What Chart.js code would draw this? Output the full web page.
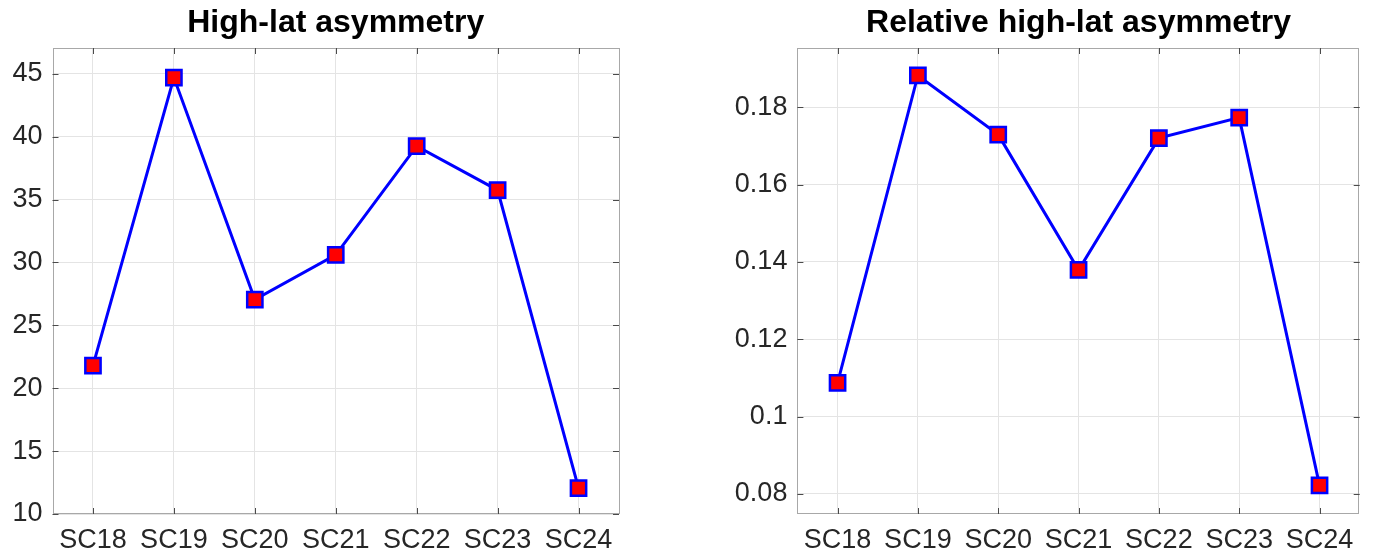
<!DOCTYPE html>
<html>
<head>
<meta charset="utf-8">
<script src="https://cdn.jsdelivr.net/npm/chart.js@4.4.1/dist/chart.umd.min.js"></script>
<style>
  html, body { margin: 0; padding: 0; background: #fff; }
  #wrap { position: relative; width: 1373px; height: 553px; }
  .box { position: absolute; top: 0; height: 553px; }
  #b1 { left: 0; width: 680px; }
  #b2 { left: 680px; width: 693px; }
</style>
</head>
<body>
<div id="wrap">
  <div class="box" id="b1"><canvas id="c1"></canvas></div>
  <div class="box" id="b2"><canvas id="c2"></canvas></div>
</div>
<script>
const categories = ['SC18', 'SC19', 'SC20', 'SC21', 'SC22', 'SC23', 'SC24'];
const highLat = [21.8, 44.7, 27.05, 30.6, 39.25, 35.75, 12.05];
const relHighLat = [0.1087, 0.1882, 0.1729, 0.1379, 0.1720, 0.1773, 0.0822];
const highLatTicks = [10, 15, 20, 25, 30, 35, 40, 45];
const relHighLatTicks = [0.08, 0.1, 0.12, 0.14, 0.16, 0.18];
const titles = ['High-lat asymmetry', 'Relative high-lat asymmetry'];

const FONT = "'Liberation Sans', Arial, Helvetica, sans-serif";

const boxPlugin = {
  id: 'matlabBox',
  beforeDatasetsDraw(chart) {
    const { ctx, chartArea: a, scales } = chart;
    const x = scales.x, y = scales.y;
    ctx.save();
    ctx.lineWidth = 1;
    ctx.strokeStyle = '#a8a8a8';
    ctx.strokeRect(Math.round(a.left) + 0.5, Math.round(a.top) + 0.5,
                   Math.round(a.right - a.left) - 1, Math.round(a.bottom - a.top) - 1);
    ctx.strokeStyle = '#4a4a4a';
    const L = 6;
    ctx.beginPath();
    x.ticks.forEach((t, i) => {
      const px = Math.round(x.getPixelForTick(i)) + 0.5;
      ctx.moveTo(px, a.bottom); ctx.lineTo(px, a.bottom - L);
      ctx.moveTo(px, a.top); ctx.lineTo(px, a.top + L);
    });
    y.ticks.forEach((t, i) => {
      const py = Math.round(y.getPixelForTick(i)) + 0.5;
      ctx.moveTo(a.left, py); ctx.lineTo(a.left + L, py);
      ctx.moveTo(a.right, py); ctx.lineTo(a.right - L, py);
    });
    ctx.stroke();
    ctx.restore();
  }
};

function makeChart(id, data, ticks, yMin, yMax, title, yAxisWidth, padRight, fmt) {
  return new Chart(document.getElementById(id), {
    type: 'line',
    data: {
      labels: categories,
      datasets: [{
        data: data,
        borderColor: '#0000ff',
        borderWidth: 3,
        tension: 0,
        fill: false,
        pointStyle: 'rect',
        pointRadius: 10.8,
        pointHoverRadius: 10.8,
        pointBackgroundColor: '#ff0000',
        pointBorderColor: '#0000ff',
        pointBorderWidth: 2.5,
        clip: false
      }]
    },
    options: {
      responsive: true,
      maintainAspectRatio: false,
      animation: false,
      events: [],
      layout: { padding: { left: 0, right: padRight, top: 0, bottom: 0 } },
      plugins: {
        legend: { display: false },
        tooltip: { enabled: false },
        title: {
          display: true,
          text: title,
          fullSize: false,
          color: '#000000',
          font: { family: FONT, size: 32, weight: 'bold', lineHeight: 1.2 },
          padding: { top: 4, bottom: 5.6 }
        }
      },
      scales: {
        x: {
          type: 'category',
          offset: true,
          grid: { display: true, color: '#e4e4e4', lineWidth: 1, drawTicks: false, offset: false },
          border: { display: false },
          ticks: {
            color: '#262626',
            font: { family: FONT, size: 27, lineHeight: 1.2 },
            padding: 10,
            maxRotation: 0,
            autoSkip: false
          },
          afterFit(scale) { scale.height = 39; }
        },
        y: {
          type: 'linear',
          min: yMin,
          max: yMax,
          grid: { display: true, color: '#e4e4e4', lineWidth: 1, drawTicks: false },
          border: { display: false },
          ticks: {
            color: '#262626',
            font: { family: FONT, size: 27, lineHeight: 1.2 },
            padding: 10,
            callback: (v) => fmt(v)
          },
          afterBuildTicks(scale) { scale.ticks = ticks.map(v => ({ value: v })); },
          afterFit(scale) { scale.width = yAxisWidth; }
        }
      }
    },
    plugins: [boxPlugin]
  });
}

makeChart('c1', highLat, highLatTicks, 10, 47.05, titles[0], 52.5, 61, v => String(v));
makeChart('c2', relHighLat, relHighLatTicks, 0.0748, 0.1953, titles[1], 117.4, 7.7,
          v => String(parseFloat(v.toFixed(2))));
</script>
</body>
</html>
